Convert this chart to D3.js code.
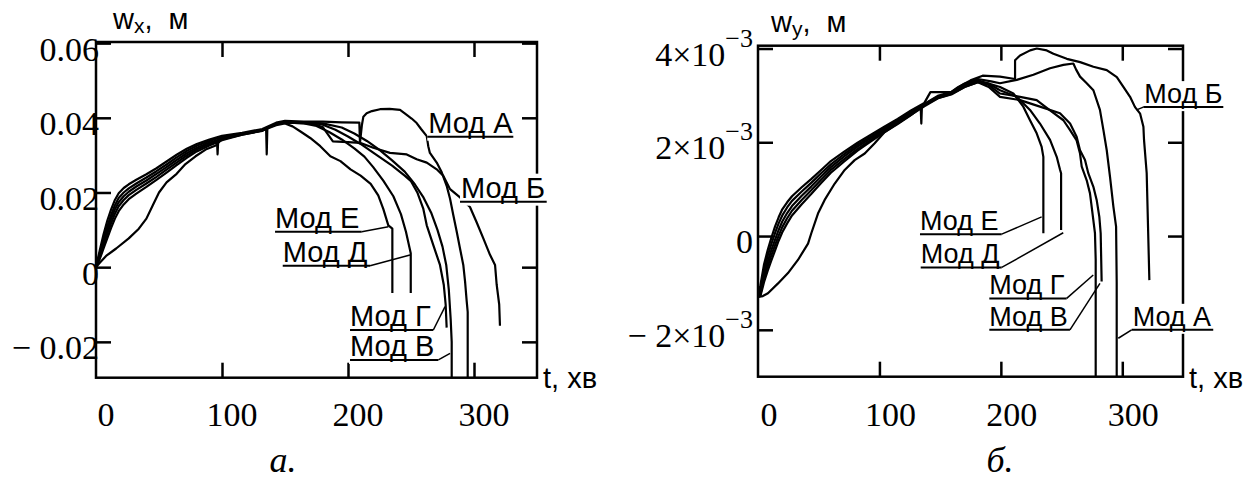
<!DOCTYPE html>
<html>
<head>
<meta charset="utf-8">
<script src="https://cdn.jsdelivr.net/npm/d3@7"></script>
<style>
  html, body { margin: 0; padding: 0; background: #fff; }
  svg { display: block; }
  text { white-space: pre; }
</style>
</head>
<body>
<svg id="chart" width="1256" height="486"></svg>
<script>
// ---------------- DATA ----------------
const xTicks = [0, 100, 200, 300];
const leftYTicks = [0.06, 0.04, 0.02, 0, -0.02];
const leftYLabels = ["0.06", "0.04", "0.02", "0", "\u2212 0.02"];
const rightYTicks = [0.004, 0.002, 0, -0.002];
const rightYLabels = [["4\u00d710", "\u22123"], ["2\u00d710", "\u22123"], ["0", ""], ["\u2212 2\u00d710", "\u22123"]];
const modelNames = ["Мод А", "Мод Б", "Мод В", "Мод Г", "Мод Д", "Мод Е"];

// ---- Left chart (w_x, м) : [t, w]
const leftA = [[0,0],[3,0.0045],[6,0.0088],[9,0.0125],[12,0.0155],[15,0.018],[18,0.0198],[22,0.0212],[26,0.0222],[32,0.0234],[40,0.0249],[48,0.0265],[56,0.0283],[64,0.0301],[72,0.0317],[80,0.033],[90,0.0342],[100,0.0352],[116,0.036],[132,0.037],[143,0.0387],[150,0.0392],[165,0.039],[180,0.039],[195,0.0388],[209,0.0387],[209.5,0.0333],[211,0.038],[212.2,0.0403],[214.8,0.0412],[219,0.0418],[225.4,0.0423],[233,0.0424],[241.3,0.0421],[246.6,0.0408],[250.5,0.0398],[254.5,0.0386],[258,0.037],[262.5,0.0351],[263.7,0.0324],[265,0.0306],[270.4,0.028],[274.4,0.0254],[278.3,0.0218],[281,0.0183],[283.6,0.0139],[286.3,0.0095],[288.9,0.005],[291.5,0.0006],[292.9,-0.0038],[294.2,-0.0091],[295,-0.012],[295,-0.0296]];
const leftB = [[0,0],[3,0.0033],[6,0.0068],[9,0.01],[12,0.013],[15,0.0155],[18,0.0174],[22,0.019],[26,0.0202],[32,0.0216],[40,0.0232],[48,0.025],[56,0.0268],[64,0.0287],[72,0.0305],[80,0.032],[90,0.0334],[96,0.034],[96.5,0.0302],[97,0.0341],[100,0.0346],[116,0.0357],[132,0.0367],[143,0.0384],[150,0.0389],[170,0.0386],[180,0.0375],[188,0.0337],[200,0.0335],[209.5,0.0333],[220.1,0.032],[233.3,0.0306],[246.6,0.0302],[254.5,0.0289],[262.5,0.028],[270.4,0.0262],[275.6,0.0245],[281,0.0209],[288.9,0.0187],[296.8,0.0161],[302,0.0121],[307.4,0.0077],[312.7,0.0033],[316.7,0.0006],[318,-0.0047],[320,-0.01],[320.6,-0.0157]];
const leftV = [[0,0],[3,0.0028],[6,0.006],[9,0.009],[12,0.0118],[15,0.0143],[18,0.0163],[22,0.018],[26,0.0193],[32,0.0207],[40,0.0224],[48,0.0242],[56,0.0261],[64,0.028],[72,0.0299],[80,0.0315],[90,0.033],[100,0.0343],[116,0.0356],[132,0.0366],[143,0.0383],[150,0.0388],[165,0.0387],[180,0.0385],[195,0.0374],[205,0.0358],[215,0.0338],[225,0.0314],[235,0.0286],[245,0.0256],[253,0.0222],[260,0.0186],[266,0.0146],[271,0.01],[275,0.0055],[278,0.0005],[280,-0.006],[281.5,-0.014],[282.3,-0.02],[282.3,-0.0296]];
const leftG = [[0,0],[3,0.0022],[6,0.005],[9,0.0078],[12,0.0105],[15,0.013],[18,0.015],[22,0.0168],[26,0.0182],[32,0.0197],[40,0.0215],[48,0.0234],[56,0.0253],[64,0.0273],[72,0.0293],[80,0.031],[90,0.0326],[100,0.034],[116,0.0355],[132,0.0365],[135,0.0372],[135.5,0.0302],[136,0.0374],[143,0.0382],[150,0.0387],[165,0.0386],[178,0.0384],[190,0.0368],[200,0.035],[210,0.033],[222,0.0302],[235,0.0272],[245,0.0245],[250,0.023],[255,0.02],[259.8,0.0156],[262.5,0.0112],[267.7,0.0059],[273,0.0006],[276,-0.0047],[277.5,-0.01],[278.3,-0.0162]];
const leftD = [[0,0],[3,0.0038],[6,0.0075],[9,0.011],[12,0.014],[15,0.0166],[18,0.0185],[22,0.02],[26,0.0211],[32,0.0224],[40,0.024],[48,0.0257],[56,0.0275],[64,0.0294],[72,0.0311],[80,0.0325],[90,0.0338],[100,0.0349],[116,0.0357],[132,0.0368],[143,0.0384],[150,0.0388],[165,0.0385],[175,0.0378],[185,0.0362],[195,0.0342],[205,0.0318],[213,0.0296],[220,0.0268],[228,0.0232],[236,0.019],[242,0.0142],[246,0.0095],[249.8,0.0037],[249.8,-0.0069]];
const leftE = [[0,0],[3,0.0012],[8,0.003],[16,0.005],[26,0.0077],[34,0.0103],[40,0.013],[45,0.0165],[50,0.02],[56,0.0227],[64,0.025],[71,0.0276],[79,0.0297],[87,0.0315],[95,0.0326],[100,0.0343],[116,0.0355],[132,0.0366],[143,0.038],[150,0.0385],[156,0.0377],[162,0.0364],[170,0.0346],[178,0.0324],[186,0.0297],[194,0.0284],[202,0.0262],[210,0.0245],[218,0.0223],[224,0.0192],[228,0.0156],[232,0.0112],[235.2,0.0103],[235.2,-0.0069]];

// ---- Right chart (w_y, м) : [t, w]
const rightA = [[0,-0.0013],[2,-0.00118],[5,-0.0008],[8,-0.00054],[11,-0.0003],[14,-0.00008],[17,0.00013],[20,0.00031],[24,0.00049],[28,0.00064],[36,0.00086],[44,0.00106],[52,0.00127],[60,0.00147],[71,0.0017],[82,0.00191],[93,0.00209],[104,0.00227],[115,0.00246],[126,0.00264],[137,0.00282],[148,0.00299],[159,0.00307],[170,0.00325],[181,0.00335],[192,0.0033],[199.3,0.00326],[213.1,0.00333],[226.8,0.00344],[240.5,0.00358],[251.5,0.00365],[259.7,0.00368],[262,0.00355],[265.2,0.0034],[270.7,0.00326],[276.2,0.00311],[281.6,0.00269],[284.4,0.00227],[287.2,0.00183],[289.9,0.00126],[292.7,0.00062],[294.9,0.0002],[295.4,-0.001],[295.4,-0.003]];
const rightB = [[0,-0.0013],[2,-0.00105],[5,-0.0006],[8,-0.0003],[11,-0.00004],[14,0.0002],[17,0.0004],[20,0.00057],[24,0.00072],[28,0.00085],[36,0.00104],[44,0.00122],[52,0.00141],[60,0.0016],[71,0.0018],[82,0.00199],[93,0.00216],[104,0.00233],[115,0.0025],[126,0.00268],[137,0.00284],[142,0.00307],[159,0.00307],[165,0.00318],[175,0.00332],[185,0.00342],[199.3,0.0034],[211.7,0.00335],[211.7,0.00375],[215.8,0.00385],[224.1,0.00396],[229.6,0.004],[237.8,0.00396],[243.3,0.00389],[254.3,0.00378],[265.3,0.00371],[276.2,0.00361],[287.2,0.00354],[295.5,0.00339],[300.9,0.00318],[306.4,0.00297],[310.5,0.00275],[314.7,0.00261],[317.4,0.00233],[317.9,0.00205],[320.1,0.00134],[322.3,-0.00094]];
const rightV = [[0,-0.0013],[2,-0.00128],[5,-0.00098],[8,-0.00074],[11,-0.00052],[14,-0.00031],[17,-0.0001],[20,0.00008],[24,0.00027],[28,0.00044],[36,0.00068],[44,0.0009],[52,0.00113],[60,0.00135],[71,0.00159],[82,0.00182],[93,0.00202],[104,0.00221],[115,0.00239],[126,0.00258],[134,0.00274],[134.5,0.0024],[135,0.00277],[148,0.00294],[159,0.00303],[170,0.00318],[181,0.00328],[190,0.00318],[199.3,0.00297],[215.8,0.0029],[232.2,0.00276],[248.7,0.00262],[257,0.0024],[262.4,0.00212],[265.2,0.00183],[269.3,0.00162],[272,0.00134],[276.2,0.00105],[278.9,0.00077],[281.1,0.00041],[282.2,0.00006],[283,-0.00097]];
const rightG = [[0,-0.0013],[2,-0.00124],[5,-0.0009],[8,-0.00064],[11,-0.00041],[14,-0.0002],[17,0.00001],[20,0.00019],[24,0.00038],[28,0.00054],[36,0.00077],[44,0.00098],[52,0.0012],[60,0.00141],[71,0.00164],[82,0.00186],[93,0.00205],[104,0.00224],[115,0.00242],[126,0.00261],[137,0.00279],[148,0.00296],[159,0.00305],[170,0.00322],[181,0.0033],[190,0.00322],[199.3,0.00304],[215.8,0.00297],[229.5,0.0029],[240.5,0.00268],[251.5,0.00247],[257,0.00226],[262.4,0.00204],[265.2,0.00176],[266.6,0.00148],[270.7,0.00119],[273.4,0.00091],[274.8,0.00062],[277.5,0.00006],[278.1,-0.0005],[278.1,-0.003]];
const rightD = [[0,-0.0013],[2,-0.00112],[5,-0.0007],[8,-0.00042],[11,-0.00017],[14,0.00006],[17,0.00027],[20,0.00044],[24,0.00061],[28,0.00075],[36,0.00095],[44,0.00114],[52,0.00134],[60,0.00153],[71,0.00175],[82,0.00195],[93,0.00212],[104,0.0023],[115,0.00248],[126,0.00266],[137,0.00281],[148,0.00297],[159,0.00306],[170,0.00323],[181,0.00332],[190,0.00325],[199.3,0.00311],[213.1,0.00297],[224,0.00269],[232.2,0.0024],[240.5,0.00205],[246,0.00169],[248.8,0.00141],[249.6,0.00134],[249.6,0.00013]];
const rightE = [[0,-0.0013],[4,-0.00128],[8.2,-0.00122],[16.5,-0.00101],[24.7,-0.00079],[32.9,-0.00051],[41.2,-0.00016],[43.9,0.00006],[49.4,0.00048],[54.9,0.00077],[63.2,0.00112],[71.4,0.00141],[79.6,0.00162],[87.9,0.00176],[96.1,0.00198],[104.3,0.00222],[115.3,0.00241],[126.3,0.00259],[137.3,0.00277],[148.2,0.00294],[159.2,0.00302],[170.2,0.00318],[181.2,0.00328],[190,0.00325],[199.3,0.00318],[210.3,0.00304],[218.5,0.00276],[224,0.00247],[229.5,0.00219],[233.6,0.0019],[235,0.00169],[235,0.00006]];

// Label annotations: [underline v, underline t start, underline t end, curve point t, curve point v, side]
const leftNotes = [
  [0.03495, 262.9, 331.2, 262.9, 0.03495, "start"],
  [0.01754, 288.9, 357.7, 288.9, 0.01754, "start"],
  [-0.02485, 201.6, 271.7, 281, -0.02306, "end"],
  [-0.01682, 201.6, 267.7, 277, -0.01058, "end"],
  [0.0004, 148.2, 217.5, 249.2, 0.00327, "end"],
  [0.00951, 142.1, 210.9, 232, 0.01085, "end"]
];
const rightNotes = [
  [-0.002, 307.7, 374.9, 296.7, -0.00218, "start"],
  [0.00275, 317.3, 383.2, 311.8, 0.00269, "start"],
  [-0.002, 190.5, 256.9, 281.6, -0.00101, "end"],
  [-0.00133, 190.5, 254.2, 276.1, -0.00083, "end"],
  [-0.00067, 134, 200.7, 251.4, 0.00007, "end"],
  [0.00004, 133.4, 200.7, 233.6, 0.00041, "end"]
];

const leftSeries = [leftA, leftB, leftV, leftG, leftD, leftE];
const rightSeries = [rightA, rightB, rightV, rightG, rightD, rightE];

// ---------------- DRAWING ----------------
const SANS = "'Liberation Sans', Arial, sans-serif";
const SERIF = "'Liberation Serif', 'Times New Roman', serif";
const svg = d3.select("#chart");

function panel(cfg) {
  const x = d3.scaleLinear().domain([0, 350]).range([cfg.x0, cfg.x1]);
  const y = d3.scaleLinear().domain(cfg.ydom).range([cfg.y1, cfg.y0]);
  const g = svg.append("g");
  const clipId = "clip" + cfg.id;
  g.append("clipPath").attr("id", clipId).append("rect")
    .attr("x", cfg.x0).attr("y", cfg.y0).attr("width", cfg.x1 - cfg.x0).attr("height", cfg.y1 - cfg.y0);

  const tl = 15;
  const axB = d3.axisBottom(x).tickValues(xTicks.slice(1)).tickSize(-tl).tickFormat("");
  const axT = d3.axisTop(x).tickValues(xTicks.slice(1)).tickSize(-tl).tickFormat("");
  const axL = d3.axisLeft(y).tickValues(cfg.yticks).tickSize(-tl).tickFormat("");
  const axR = d3.axisRight(y).tickValues(cfg.yticks).tickSize(-tl).tickFormat("");
  [[axB, `translate(0,${cfg.y1})`], [axT, `translate(0,${cfg.y0})`],
   [axL, `translate(${cfg.x0},0)`], [axR, `translate(${cfg.x1},0)`]].forEach(([ax, tr]) => {
    const a = g.append("g").attr("transform", tr).call(ax);
    a.select(".domain").remove();
    a.selectAll("line").attr("stroke", "#000").attr("stroke-width", 2.5);
  });

  g.append("rect").attr("x", cfg.x0).attr("y", cfg.y0)
    .attr("width", cfg.x1 - cfg.x0).attr("height", cfg.y1 - cfg.y0)
    .attr("fill", "none").attr("stroke", "#000").attr("stroke-width", 2.5);

  const line = d3.line().x(d => x(d[0])).y(d => y(d[1]));
  g.append("g").attr("clip-path", `url(#${clipId})`).selectAll("path").data(cfg.series).join("path")
    .attr("d", line).attr("fill", "none").attr("stroke", "#000")
    .attr("stroke-width", 2.2).attr("stroke-linejoin", "round");

  g.selectAll(".xl").data(xTicks).join("text")
    .attr("x", d => x(d) + cfg.xlabOff).attr("y", 426)
    .attr("text-anchor", "middle").attr("font-family", SERIF).attr("font-size", 34)
    .text(d => d);

  cfg.ytickLabels(g, y);

  const tt = g.append("text").attr("x", cfg.titleX).attr("y", cfg.titleY)
    .attr("font-family", SANS).attr("font-size", 29);
  tt.append("tspan").text("w");
  tt.append("tspan").attr("font-size", 21).attr("dy", 4).text(cfg.sub);
  tt.append("tspan").attr("dy", -4).text(",  м");
  g.append("text").attr("x", cfg.x1 + 6).attr("y", 388)
    .attr("font-family", SANS).attr("font-size", 29).text("t, хв");

  const lab = g.append("g");
  cfg.notes.forEach((n, i) => {
    const [uv, t1, t2, ct, cv, side] = n;
    const uy = y(uv), ux1 = x(t1), ux2 = x(t2);
    const txt = lab.append("text").attr("x", ux1 + (side === "start" ? 1 : 0)).attr("y", uy - 4)
      .attr("font-family", SANS).attr("font-size", cfg.labSize).text(modelNames[i]);
    const bb = txt.node().getBBox();
    lab.insert("rect", "text").attr("x", bb.x - 1).attr("y", bb.y + 2)
      .attr("width", bb.width + 2).attr("height", bb.height).attr("fill", "#fff");
    lab.append("line").attr("x1", ux1).attr("x2", ux2).attr("y1", uy).attr("y2", uy)
      .attr("stroke", "#000").attr("stroke-width", 2);
    const lx = side === "start" ? ux1 : ux2;
    lab.append("line").attr("x1", lx).attr("y1", uy).attr("x2", x(ct)).attr("y2", y(cv))
      .attr("stroke", "#000").attr("stroke-width", 1.5);
  });
  lab.selectAll("text").raise();
  return { x, y };
}

panel({
  id: "L", x0: 96, x1: 537, y0: 42, y1: 377.7, ydom: [-0.0296, 0.0603],
  yticks: leftYTicks, series: leftSeries, notes: leftNotes, labSize: 29,
  xlabOff: 10, titleX: 113, titleY: 29, sub: "x",
  ytickLabels: (g, y) => {
    g.selectAll(".yl").data(leftYTicks).join("text")
      .attr("x", 99).attr("y", d => y(d) + 17.5)
      .attr("text-anchor", "end").attr("font-family", SERIF).attr("font-size", 34)
      .text((d, i) => leftYLabels[i]);
  }
});

panel({
  id: "R", x0: 758, x1: 1183, y0: 45.7, y1: 376.7, ydom: [-0.003, 0.00406],
  yticks: rightYTicks, series: rightSeries, notes: rightNotes, labSize: 27,
  xlabOff: 11, titleX: 771, titleY: 32, sub: "y",
  ytickLabels: (g, y) => {
    rightYTicks.forEach((d, i) => {
      const t = g.append("text").attr("x", 753).attr("y", y(d) + 17)
        .attr("text-anchor", "end").attr("font-family", SERIF).attr("font-size", 34);
      t.append("tspan").text(rightYLabels[i][0]);
      if (rightYLabels[i][1]) t.append("tspan").attr("font-size", 26).attr("dy", -19).text(rightYLabels[i][1]);
    });
  }
});

svg.append("text").attr("x", 283).attr("y", 472).attr("text-anchor", "middle")
  .attr("font-family", SERIF).attr("font-style", "italic").attr("font-size", 36).text("а.");
svg.append("text").attr("x", 1000).attr("y", 472).attr("text-anchor", "middle")
  .attr("font-family", SERIF).attr("font-style", "italic").attr("font-size", 36).text("б.");
</script>
</body>
</html>
